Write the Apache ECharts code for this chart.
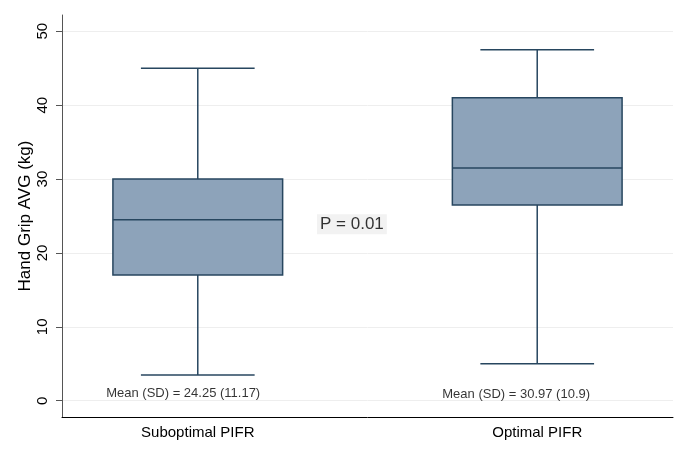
<!DOCTYPE html>
<html>
<head>
<meta charset="utf-8">
<title>Hand Grip AVG</title>
<script src="https://cdn.jsdelivr.net/npm/echarts@6/dist/echarts.min.js"></script>
<style>
html, body { margin: 0; padding: 0; background: #fff; }
#main { width: 688px; height: 458px; }
</style>
</head>
<body>
<div id="main"></div>
<script>
// 分组与箱线图数据
var groups = ['Suboptimal PIFR', 'Optimal PIFR'];
var groupPos = [1, 2];
var whiskerLow = [3.5, 5];
var q1 = [17, 26.5];
var median = [24.5, 31.5];
var q3 = [30, 41];
var whiskerHigh = [45, 47.5];

// 注释文字
var meanText = ['Mean (SD) = 24.25 (11.17)', 'Mean (SD) = 30.97 (10.9)'];
var meanTextPos = [[0.957, 1.0], [1.938, 0.8]];
var pText = 'P = 0.01';
var pTextPos = [1.454, 23.9];

var yTicks = [0, 10, 20, 30, 40, 50];

var boxColor = '#8da3ba';
var lineColor = '#27465f';
var fontName = 'Liberation Sans, Arial, sans-serif';

var boxData = [];
for (var i = 0; i < groupPos.length; i++) {
    boxData.push([groupPos[i], whiskerLow[i], q1[i], median[i], q3[i], whiskerHigh[i]]);
}

// 箱体 + 须线（端线比箱体窄）
function renderBox(params, api) {
    var x = api.value(0);
    var lo = api.coord([x, api.value(1)]);
    var b1 = api.coord([x, api.value(2)]);
    var md = api.coord([x, api.value(3)]);
    var b3 = api.coord([x, api.value(4)]);
    var hi = api.coord([x, api.value(5)]);
    var halfBox = api.size([0.5, 0])[0] / 2;
    var halfCap = api.size([0.335, 0])[0] / 2;
    var ls = { stroke: lineColor, lineWidth: 1.5 };
    return {
        type: 'group',
        children: [
            { type: 'line', shape: { x1: lo[0], y1: lo[1], x2: b1[0], y2: b1[1] }, style: ls },
            { type: 'line', shape: { x1: b3[0], y1: b3[1], x2: hi[0], y2: hi[1] }, style: ls },
            { type: 'line', shape: { x1: lo[0] - halfCap, y1: lo[1], x2: lo[0] + halfCap, y2: lo[1] }, style: ls },
            { type: 'line', shape: { x1: hi[0] - halfCap, y1: hi[1], x2: hi[0] + halfCap, y2: hi[1] }, style: ls },
            {
                type: 'rect',
                shape: { x: b3[0] - halfBox, y: b3[1], width: halfBox * 2, height: b1[1] - b3[1] },
                style: { fill: boxColor, stroke: lineColor, lineWidth: 1.5 }
            },
            { type: 'line', shape: { x1: md[0] - halfBox, y1: md[1], x2: md[0] + halfBox, y2: md[1] }, style: ls }
        ]
    };
}

var myChart = echarts.init(document.getElementById('main'));

var option = {
    backgroundColor: '#fff',
    animation: false,
    textStyle: { fontFamily: fontName },
    grid: { left: 62, right: 15, top: 15, bottom: 41 },
    xAxis: {
        type: 'value',
        min: 0.6,
        max: 2.4,
        axisLine: { show: true, onZero: false, lineStyle: { color: '#000', width: 1 } },
        axisTick: { show: false },
        splitLine: { show: false },
        axisLabel: {
            customValues: groupPos,
            formatter: function (v) { return groups[groupPos.indexOf(v)]; },
            margin: 8,
            fontSize: 15,
            color: '#000',
            fontFamily: fontName
        }
    },
    yAxis: {
        type: 'value',
        min: -2.2,
        max: 52.2,
        name: 'Hand Grip AVG (kg)',
        nameLocation: 'middle',
        nameGap: 28,
        nameMoveOverlap: false,
        nameRotate: 90,
        nameTextStyle: { fontSize: 17, color: '#000', fontFamily: fontName },
        axisLine: { show: true, onZero: false, lineStyle: { color: '#555', width: 1 } },
        axisTick: { show: true, length: 6, customValues: yTicks, lineStyle: { color: '#555' } },
        axisLabel: { rotate: 90, customValues: yTicks, margin: 12, fontSize: 15, color: '#000', fontFamily: fontName },
        splitLine: { show: true, lineStyle: { color: '#eeeeee', width: 1 } }
    },
    series: [
        {
            name: 'box',
            type: 'custom',
            renderItem: renderBox,
            encode: { x: 0, y: [1, 2, 3, 4, 5] },
            data: boxData,
            silent: true
        },
        {
            name: 'mean',
            type: 'scatter',
            symbolSize: 1,
            itemStyle: { color: 'rgba(0,0,0,0)' },
            silent: true,
            z: 5,
            label: {
                show: true,
                position: 'inside',
                fontSize: 13,
                color: '#000',
                fontFamily: fontName,
                formatter: function (p) { return meanText[p.dataIndex]; }
            },
            data: meanTextPos
        },
        {
            name: 'p',
            type: 'scatter',
            symbolSize: 1,
            itemStyle: { color: 'rgba(0,0,0,0)' },
            silent: true,
            z: 5,
            label: {
                show: true,
                position: 'inside',
                fontSize: 17,
                color: '#000',
                fontFamily: fontName,
                backgroundColor: '#efefef',
                padding: [2, 3, 1, 3],
                formatter: pText
            },
            data: [pTextPos]
        }
    ]
};

myChart.setOption(option);
</script>
</body>
</html>
